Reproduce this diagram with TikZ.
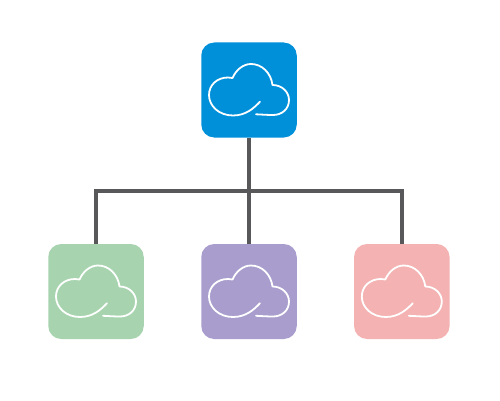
\documentclass[tikz,border=0pt]{standalone}
\definecolor{cblue}{RGB}{0,144,218}
\definecolor{cgreen}{RGB}{167,212,175}
\definecolor{cpurple}{RGB}{169,157,205}
\definecolor{cpink}{RGB}{244,178,178}
\definecolor{cline}{RGB}{88,88,90}
\tikzset{
  x=1pt,y=1pt,
  tile/.style={rectangle,rounded corners=13pt,minimum width=95.5pt,minimum height=95pt,inner sep=0pt,outer sep=0pt,fill=#1},
  link/.style={draw=cline,line width=3.6pt},
  cloudpic/.pic={
    \draw[white,line width=1.8pt,line cap=round,line join=round]
      (11,-11.7) .. controls (5,-18) and (-3,-25.5) .. (-16,-25.5)
      .. controls (-30,-25.5) and (-40,-16) .. (-40,-5)
      .. controls (-40,5) and (-32,12.5) .. (-21,12.5)
      .. controls (-19,12.5) and (-18,12.5) .. (-16.5,12)
      .. controls (-13,20) and (-6,26) .. (2,26)
      .. controls (13,26) and (22,17) .. (23.5,5)
      .. controls (33,5) and (40,-2) .. (40,-10)
      .. controls (40,-19) and (33,-25) .. (24,-25)
      .. controls (18,-25) and (12,-24.5) .. (7,-24.3);
  }
}
\begin{document}
\begin{tikzpicture}
\useasboundingbox (0,0) rectangle (500,400);
\fill[white] (0,0) rectangle (500,400);
\node[tile=cblue] (top) at (249,310) {};
\node[tile=cgreen] (left) at (96,108.5) {};
\node[tile=cpurple] (mid) at (249,108.5) {};
\node[tile=cpink] (right) at (401.8,108.5) {};
\coordinate (bar) at (249,209.2);
\draw[link] (top.south) -- (mid.north);
\draw[link] (left.north) |- (bar) -| (right.north);
\pic at (top.center) {cloudpic};
\pic at (left.center) {cloudpic};
\pic at (mid.center) {cloudpic};
\pic at (right.center) {cloudpic};
\end{tikzpicture}
\end{document}
